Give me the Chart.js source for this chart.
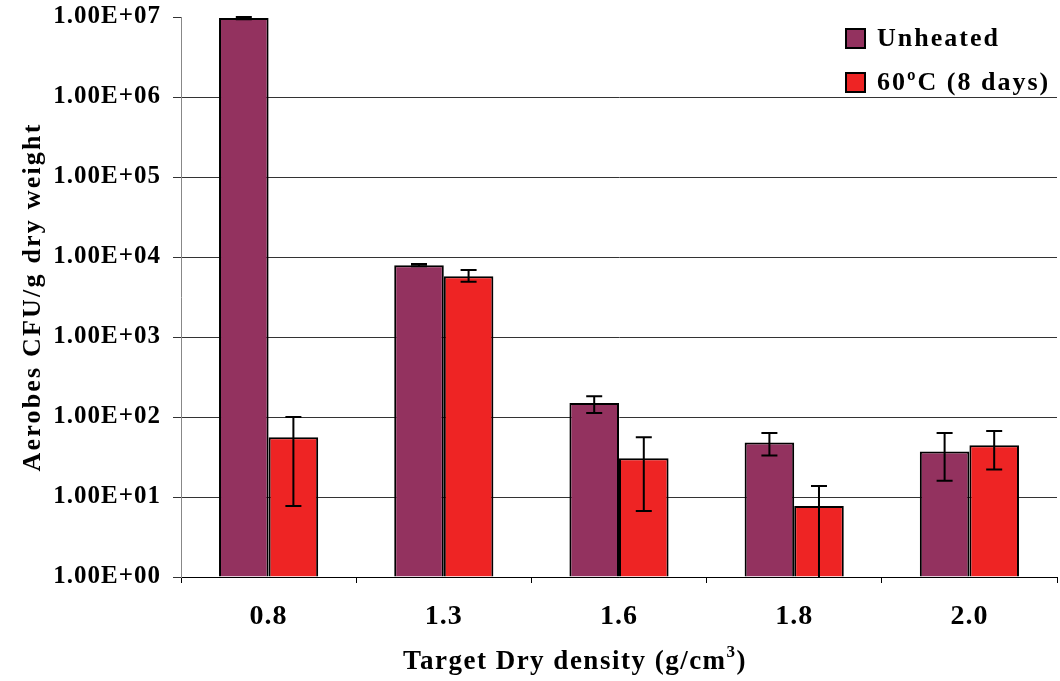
<!DOCTYPE html>
<html>
<head>
<meta charset="utf-8">
<script src="https://cdn.jsdelivr.net/npm/chart.js@4"></script>
<style>
  html, body { margin: 0; padding: 0; background: #fff; }
  #wrap { width: 1060px; height: 681px; }
</style>
</head>
<body>
<div id="wrap"><canvas id="chart-1" width="1060" height="681"></canvas></div>
<script>
// donnees
const categories = ["0.8", "1.3", "1.6", "1.8", "2.0"];
const seriesNames = ["Unheated", "60ºC (8 days)"];
const unheated = [9.7e6, 7900, 150, 48, 37];
const unheatedHigh = [1.0e7, 8150, 182, 63, 63];
const unheatedLow = [9.4e6, 7650, 112, 33, 16];
const heated = [56, 5750, 30.5, 7.7, 44.5];
const heatedHigh = [100, 6900, 56, 13.7, 67];
const heatedLow = [7.7, 4900, 6.7, 1, 22];
const yTickValues = [1, 10, 100, 1e3, 1e4, 1e5, 1e6, 1e7];
const yTickLabels = ["1.00E+00", "1.00E+01", "1.00E+02", "1.00E+03", "1.00E+04", "1.00E+05", "1.00E+06", "1.00E+07"];
const xTitle = ["Target Dry density (g/cm", "3", ")"];
const yTitle = "Aerobes CFU/g dry weight";

const colors = ["#93325F", "#EE2424"];
const fontFamily = "'Liberation Serif', 'DejaVu Serif', serif";

/**
 * Plugin qui dessine les barres d'erreur avec les echelles du graphique
 */
const errorBars = {
    id: "errorBars",
    afterDatasetsDraw(chart) {
        const ctx = chart.ctx;
        const y = chart.scales.y;
        ctx.save();
        ctx.strokeStyle = "#000";
        ctx.lineWidth = 2;
        chart.data.datasets.forEach(function(ds, i) {
            const meta = chart.getDatasetMeta(i);
            meta.data.forEach(function(bar, j) {
                const x = bar.x;
                const top = y.getPixelForValue(ds.errHigh[j]);
                const bot = Math.min(y.getPixelForValue(ds.errLow[j]), chart.chartArea.bottom);
                ctx.beginPath();
                ctx.moveTo(x, top);
                ctx.lineTo(x, bot);
                ctx.moveTo(x - 8, top);
                ctx.lineTo(x + 8, top);
                if (ds.errLow[j] > 1) {
                    ctx.moveTo(x - 8, bot);
                    ctx.lineTo(x + 8, bot);
                }
                ctx.stroke();
            });
        });
        ctx.restore();
    }
};

/**
 * Plugin pour l'espacement des lettres, la legende et les titres des axes
 */
const customLegend = {
    id: "customLegend",
    beforeDraw(chart) {
        chart.ctx.letterSpacing = "1px";
    },
    afterDraw(chart) {
        const ctx = chart.ctx;
        ctx.save();
        ctx.fillStyle = "#fff";
        ctx.fillRect(834, 0, 224, 96);
        ctx.font = "bold 26px " + fontFamily;
        ctx.letterSpacing = "2px";
        ctx.textBaseline = "alphabetic";
        chart.data.datasets.forEach(function(ds, i) {
            const yy = 38 + i * 44;
            ctx.fillStyle = ds.backgroundColor;
            ctx.fillRect(846, yy - 9, 19, 19);
            ctx.strokeStyle = "#000";
            ctx.lineWidth = 2;
            ctx.strokeRect(846, yy - 9, 19, 19);
            ctx.fillStyle = "#000";
            ctx.fillText(ds.label, 877, yy + 8);
        });

        // titre de l'axe Y
        ctx.save();
        ctx.translate(40, 297);
        ctx.rotate(-Math.PI / 2);
        ctx.textAlign = "center";
        ctx.font = "bold 26px " + fontFamily;
        ctx.letterSpacing = "2.2px";
        ctx.fillText(yTitle, 0, 0);
        ctx.restore();

        // titre de l'axe X avec exposant
        ctx.letterSpacing = "1.5px";
        ctx.font = "bold 27px " + fontFamily;
        const w0 = ctx.measureText(xTitle[0]).width;
        const w2 = ctx.measureText(xTitle[2]).width;
        ctx.font = "bold 17px " + fontFamily;
        const w1 = ctx.measureText(xTitle[1]).width;
        let x0 = 575 - (w0 + w1 + w2) / 2;
        ctx.font = "bold 27px " + fontFamily;
        ctx.fillText(xTitle[0], x0, 669);
        ctx.font = "bold 17px " + fontFamily;
        ctx.fillText(xTitle[1], x0 + w0, 657);
        ctx.font = "bold 27px " + fontFamily;
        ctx.fillText(xTitle[2], x0 + w0 + w1, 669);
        ctx.restore();
    }
};

function showChart() {
    const dataChart = {
        labels: categories,
        datasets: [{
            label: seriesNames[0],
            data: unheated,
            errHigh: unheatedHigh,
            errLow: unheatedLow,
            backgroundColor: colors[0],
            borderColor: "#000",
            borderWidth: 2
        }, {
            label: seriesNames[1],
            data: heated,
            errHigh: heatedHigh,
            errLow: heatedLow,
            backgroundColor: colors[1],
            borderColor: "#000",
            borderWidth: 2
        }]
    };

    const configChart = {
        type: "bar",
        data: dataChart,
        plugins: [errorBars, customLegend],
        options: {
            responsive: false,
            animation: false,
            layout: { padding: { left: 0, right: 3, top: 17, bottom: 0 } },
            datasets: {
                bar: { categoryPercentage: 0.566, barPercentage: 1.0, base: 1 }
            },
            plugins: {
                legend: { display: false },
                tooltip: { enabled: false }
            },
            scales: {
                x: {
                    offset: true,
                    grid: {
                        offset: true,
                        drawOnChartArea: false,
                        drawTicks: true,
                        tickLength: 6,
                        color: "#000"
                    },
                    border: { color: "#000", width: 1 },
                    ticks: {
                        color: "#000",
                        padding: 17,
                        font: { family: fontFamily, size: 28, weight: "bold" }
                    },
                    afterFit: function(scale) {
                        scale.height = 681 - 577;
                        scale.paddingLeft = 0;
                        scale.paddingRight = 0;
                    }
                },
                y: {
                    type: "logarithmic",
                    min: 1,
                    max: 1e7,
                    afterBuildTicks: function(scale) {
                        scale.ticks = yTickValues.map(function(v) { return { value: v }; });
                    },
                    grid: {
                        color: function(c) {
                            return c.tick && c.tick.value === 1e7 ? "rgba(0,0,0,0)" : "#333";
                        },
                        tickColor: "#333",
                        lineWidth: 1,
                        tickLength: 8
                    },
                    border: { color: "#888", width: 1 },
                    ticks: {
                        color: "#000",
                        padding: 12,
                        font: { family: fontFamily, size: 25, weight: "bold" },
                        callback: function(value) {
                            const k = yTickValues.indexOf(value);
                            return k >= 0 ? yTickLabels[k] : "";
                        }
                    },
                    afterFit: function(scale) {
                        scale.width = 181;
                        scale.paddingTop = 0;
                        scale.paddingBottom = 0;
                    }
                }
            }
        }
    };

    const chart = new Chart(document.getElementById("chart-1"), configChart);
}

showChart();
</script>
</body>
</html>
